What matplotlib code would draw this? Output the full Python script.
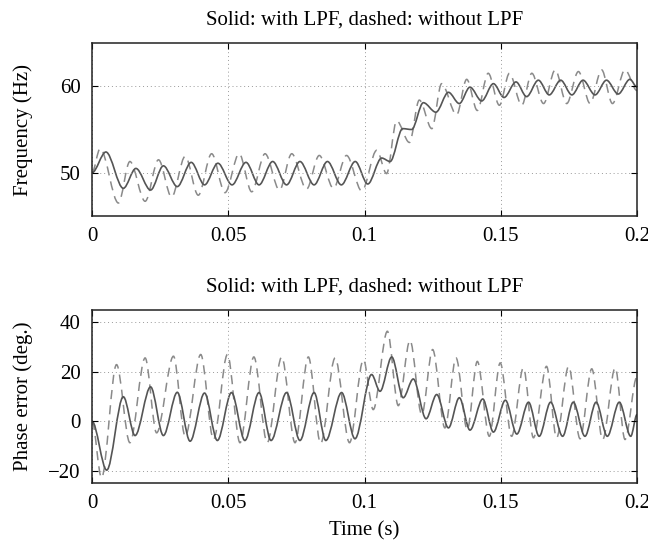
import matplotlib
matplotlib.use("Agg")
import matplotlib.pyplot as plt
from matplotlib.path import Path
from matplotlib.patches import PathPatch

# extrema (time in s)
t_freq_lpf = [0, 0.0051, 0.0115, 0.0161, 0.0215, 0.0262, 0.0313, 0.0364, 0.0413, 0.0462,
              0.0514, 0.0565, 0.0613, 0.0663, 0.0714, 0.0763, 0.0815, 0.0864, 0.0915, 0.0966,
              0.1012, 0.1063, 0.1094, 0.1140, 0.1173, 0.1216, 0.1262, 0.1308, 0.1348, 0.1387,
              0.1430, 0.1473, 0.1512, 0.1556, 0.1595, 0.1638, 0.1678, 0.1720, 0.1761, 0.1802,
              0.1846, 0.1888, 0.1931, 0.1974, 0.2]
freq_lpf = [50, 52.4, 48.2, 50.5, 48.0, 50.8, 48.4, 51.2, 48.6, 51.1,
            48.6, 51.2, 48.6, 51.3, 48.6, 51.3, 48.6, 51.3, 48.6, 51.3,
            48.7, 51.7, 51.3, 55.1, 55.0, 58.1, 57.0, 59.3, 58.0, 59.9,
            58.3, 60.3, 58.7, 60.5, 58.8, 60.7, 59.0, 60.7, 59.0, 60.7,
            59.0, 60.7, 59.1, 60.8, 59.9]

t_freq_raw = [0, 0.0030, 0.0097, 0.0139, 0.0195, 0.0244, 0.0292, 0.0342, 0.0390, 0.0439,
              0.0488, 0.0540, 0.0586, 0.0635, 0.0688, 0.0733, 0.0787, 0.0834, 0.0886, 0.0934,
              0.0990, 0.1045, 0.1081, 0.1118, 0.1165, 0.1201, 0.1247, 0.1283, 0.1338, 0.1375,
              0.1414, 0.1454, 0.1495, 0.1532, 0.1577, 0.1614, 0.1657, 0.1700, 0.1742, 0.1785,
              0.1828, 0.1870, 0.1910, 0.1956, 0.2]
freq_raw = [50, 52.8, 46.5, 51.3, 46.7, 51.5, 47.2, 51.9, 47.4, 52.2,
            47.7, 52.2, 47.8, 52.2, 48.0, 52.2, 48.1, 52.0, 48.2, 52.0,
            47.9, 52.6, 49.9, 56.0, 53.5, 58.4, 55.1, 60.3, 56.7, 60.8,
            57.2, 61.5, 57.8, 61.5, 57.8, 61.5, 58.0, 61.9, 58.0, 61.7,
            58.0, 61.9, 58.0, 61.9, 59.5]

t_err_lpf = [0, 0.0054, 0.0115, 0.0158, 0.0215, 0.0262, 0.0313, 0.0360, 0.0413, 0.0460,
             0.0512, 0.0561, 0.0613, 0.0657, 0.0714, 0.0763, 0.0815, 0.0858, 0.0916, 0.0965,
             0.1026, 0.1057, 0.1100, 0.1142, 0.1179, 0.1226, 0.1265, 0.1308, 0.1348, 0.1387,
             0.1434, 0.1473, 0.1517, 0.1559, 0.1602, 0.1641, 0.1683, 0.1727, 0.1766, 0.1809,
             0.1850, 0.1891, 0.1935, 0.1977, 0.2]
err_lpf = [0, -19.8, 9.9, -5.8, 13.9, -5.8, 11.7, -8.1, 11.4, -7.8,
           11.6, -7.8, 11.6, -7.8, 11.6, -7.8, 11.6, -7.8, 11.6, -7.1,
           18.9, 12.1, 26.0, 9.5, 17.1, 1.0, 10.8, -2.7, 9.5, -3.6,
           9.0, -4.4, 8.5, -5.2, 7.7, -6.1, 7.7, -6.1, 7.7, -6.1,
           7.7, -6.1, 7.7, -6.1, 2.7]

t_err_raw = [0, 0.0035, 0.0090, 0.0139, 0.0195, 0.0237, 0.0299, 0.0342, 0.0399, 0.0446,
             0.0497, 0.0543, 0.0594, 0.0643, 0.0696, 0.0745, 0.0794, 0.0839, 0.0892, 0.0945,
             0.0996, 0.1032, 0.1084, 0.1124, 0.1167, 0.1210, 0.1250, 0.1295, 0.1336, 0.1377,
             0.1414, 0.1458, 0.1498, 0.1540, 0.1583, 0.1620, 0.1668, 0.1705, 0.1749, 0.1791,
             0.1834, 0.1874, 0.1920, 0.1956, 0.2]
err_raw = [0, -22.9, 22.9, -8.7, 25.6, -4.7, 26.3, -6.1, 27.0, -7.4,
           27.0, -8.7, 26.0, -8.7, 26.0, -8.7, 26.0, -9.0, 25.6, -8.7,
           24.9, 4.7, 36.4, 6.3, 32.7, 2.7, 29.0, -2.7, 25.6, -3.4,
           24.2, -6.1, 23.6, -6.1, 21.6, -6.7, 22.2, -6.7, 22.2, -7.1,
           21.2, -7.4, 21.6, -7.4, 18.0]

x_ticks = [0, 0.05, 0.1, 0.15, 0.2]
x_ticklabels = ["0", "0.05", "0.1", "0.15", "0.2"]
title = "Solid: with LPF, dashed: without LPF"

plt.rcParams['font.family'] = ['Liberation Serif', 'DejaVu Serif']
plt.rcParams['font.size'] = 15


def smooth_line(ax, t, v, **kw):
    # bezier through the extrema, flat at each one, so the ripple looks round
    verts = [(t[0], v[0])]
    codes = [Path.MOVETO]
    for i in range(1, len(t)):
        dt = t[i] - t[i - 1]
        verts += [(t[i - 1] + dt / 3, v[i - 1]), (t[i] - dt / 3, v[i]), (t[i], v[i])]
        codes += [Path.CURVE4] * 3
    ax.add_patch(PathPatch(Path(verts, codes), fill=False, transform=ax.transData, **kw))


fig = plt.figure(figsize=(6.48, 5.47), dpi=100)
ax1 = fig.add_axes([92 / 648, 1 - 216 / 547, 545 / 648, 173 / 547])
ax2 = fig.add_axes([92 / 648, 1 - 483 / 547, 545 / 648, 173 / 547])

solid_kw = dict(edgecolor="#555555", lw=1.2, joinstyle="round")
dash_kw = dict(edgecolor="#8a8a8a", lw=1.1, linestyle=(0, (6, 4)))

smooth_line(ax1, t_freq_raw, freq_raw, **dash_kw)
smooth_line(ax1, t_freq_lpf, freq_lpf, **solid_kw)
smooth_line(ax2, t_err_raw, err_raw, **dash_kw)
smooth_line(ax2, t_err_lpf, err_lpf, **solid_kw)

ax1.set_ylim(45, 65)
ax1.set_yticks([50, 60])
ax1.set_ylabel("Frequency (Hz)")
ax2.set_ylim(-25, 45)
ax2.set_yticks([-20, 0, 20, 40])
ax2.set_ylabel("Phase error (deg.)")
ax2.set_xlabel("Time (s)", labelpad=6)

for ax in (ax1, ax2):
    ax.set_xlim(0, 0.2)
    ax.set_xticks(x_ticks)
    ax.set_xticklabels(x_ticklabels)
    ax.set_title(title, fontsize=15, pad=13)
    ax.grid(True, linestyle=(0, (1, 3)), color="#999999", lw=0.7)
    ax.tick_params(direction="in", top=True, right=True, length=4, width=0.8, pad=8)
    ax.yaxis.set_label_coords(-0.108, 0.5)
    for s in ax.spines.values():
        s.set_linewidth(1.1)
        s.set_color("#222222")

fig.savefig("out.png", dpi=100)
